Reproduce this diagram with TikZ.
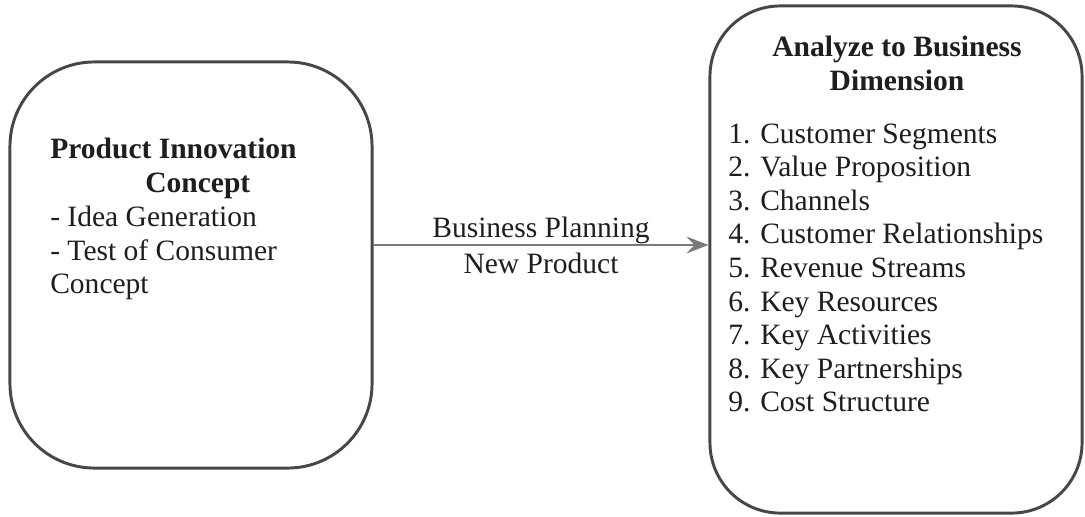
\documentclass[tikz,border=0pt]{standalone}
\usepackage{fontspec}
\setmainfont{Liberation Serif}
\usepackage{tikz}
\usetikzlibrary{positioning,arrows.meta,calc}
\definecolor{ink}     {HTML}{1E1E1E}
\definecolor{frame}   {HTML}{474747}
\definecolor{wire}    {HTML}{7A7A7A}
\tikzset{
  every node/.style={font=\fontsize{21}{24}\selectfont, text=ink},
  % --- nodes
  panel/.style = {rounded corners=60pt, draw=frame, line width=2.1pt, fill=white},
  txt/.style   = {inner sep=0pt, align=left},
  head/.style  = {inner sep=0pt, align=center, font=\fontsize{21}{24}\selectfont\bfseries},
  item/.style  = {inner sep=0pt, anchor=base west},
  % --- edges
  conn/.style  = {-{Stealth[length=0.55cm, width=0.42cm, inset=0.2cm]}, line width=1.4pt, draw=wire},
  clabel/.style= {inner sep=0pt},
}
\begin{document}
\begin{tikzpicture}[x=0.025cm, y=-0.025cm]
  \useasboundingbox (0,0) rectangle (1085,516);

  \node[panel, minimum width=9.05cm, minimum height=10.15cm] (lbox) at (191,265) {};
  \node[panel, rounded corners=50pt, minimum width=9.3cm, minimum height=12.675cm] (rbox) at (896,259.5) {};

  \node[txt, anchor=north west] (idea) at (50,138)
    {\textbf{Product Innovation}\\\hspace*{2.375cm}\textbf{Concept}\\- Idea Generation\\- Test of Consumer\\Concept};

  \node[head, anchor=north] (dim) at (897,36) {Analyze to Business\\Dimension};
  \foreach \t [count=\i] in {Customer Segments, Value Proposition, Channels,
      Customer Relationships, Revenue Streams, Key Resources, Key Activities,
      Key Partnerships, Cost Structure}
    \node[item] (it\i) at (728,{143+33.6*(\i-1)}) {\i. \t};

  \draw[conn] ([yshift=0.5cm]lbox.east) -- ([yshift=0.5cm]lbox.east -| rbox.west)
    node[clabel, midway, above] {Business Planning}
    node[clabel, midway, below=5pt] {New Product};
\end{tikzpicture}
\end{document}
